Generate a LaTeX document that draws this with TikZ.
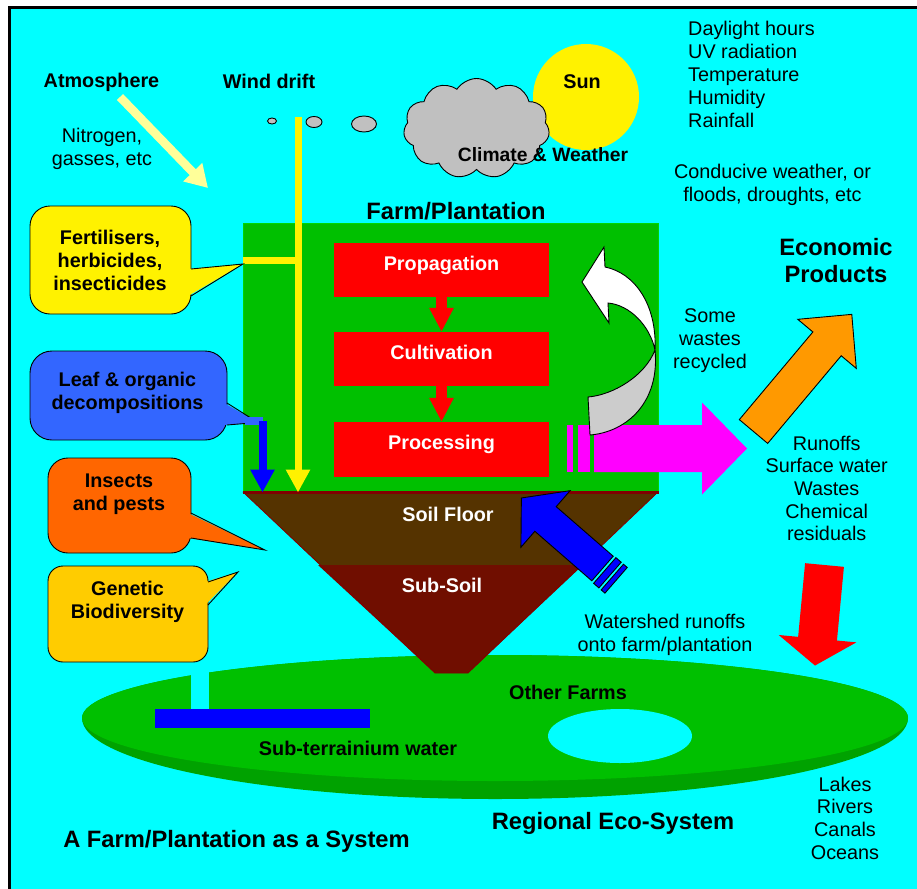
\documentclass[tikz,border=0pt]{standalone}
\usepackage{fontspec}
\setmainfont{Liberation Sans}
\usetikzlibrary{arrows.meta,shapes.symbols}
\definecolor{sky}{RGB}{0,255,255}
\definecolor{farmgreen}{RGB}{0,192,0}
\definecolor{farmedge}{RGB}{0,214,0}
\definecolor{rimgreen}{RGB}{0,162,0}
\definecolor{soil}{RGB}{85,51,0}
\definecolor{subsoil}{RGB}{112,14,0}
\definecolor{soilline}{RGB}{128,0,0}
\definecolor{leafblue}{RGB}{51,102,255}
\definecolor{pestorange}{RGB}{255,102,0}
\definecolor{genegold}{RGB}{255,204,0}
\definecolor{prodorange}{RGB}{255,153,0}
\definecolor{airyellow}{RGB}{255,255,153}
\definecolor{cloudgray}{RGB}{192,192,192}
\definecolor{twistgray}{RGB}{204,204,204}
\definecolor{runoffpink}{RGB}{255,0,255}
\begin{document}
\begin{tikzpicture}[x=1pt,y=-1pt,
  lbl/.style={inner sep=0pt, align=center, font=\fontsize{19.8}{23}\selectfont},
  blbl/.style={inner sep=0pt, align=center, font=\fontsize{19.8}{23}\selectfont\bfseries},
  ttl/.style={inner sep=0pt, align=center, font=\fontsize{23.7}{27.5}\selectfont\bfseries},
  procbox/.style={fill=red, minimum width=215pt, minimum height=54pt, inner sep=0pt,
    text height=8pt, text depth=8pt,
    text=white, font=\fontsize{19.8}{23}\selectfont\bfseries},
  flowdown/.style={draw=red, line width=11pt, -{Triangle[length=24pt,width=23pt]}},
  outline/.style={draw=black, line width=0.9pt},
  blockarrow/.style={draw=black, line width=0.9pt, line join=miter},
]
\useasboundingbox (0,0) rectangle (917,888);
\fill[white] (0,0) rectangle (917,888);
\begin{scope}
  \clip (0,0) rectangle (917,888);
  \filldraw[fill=sky, draw=black, line width=3.5pt] (9.5,7.5) rectangle (960,960);
\end{scope}

% ---------- regional eco-system disc ----------
\fill[rimgreen] (82,718) arc[start angle=180, end angle=360, x radius=413pt, y radius=81pt]
  arc[start angle=0, end angle=180, x radius=413pt, y radius=63pt] -- cycle;
\fill[farmgreen] (495,718) ellipse[x radius=413pt, y radius=63pt];
\fill[sky] (620,736) ellipse[x radius=72pt, y radius=27pt];
\fill[sky] (191,655) rectangle (209,710);
\fill[blue] (155,709) rectangle (370,728);

% ---------- sky: sun, cloud, wind bubbles ----------
\fill[yellow] (586,97) circle[radius=53pt];
\node[cloud, cloud puffs=11, cloud puff arc=115, aspect=1.5, fill=cloudgray, outline,
  minimum width=146pt, minimum height=100pt, inner sep=0pt] (cloud) at (476.5,128.5) {};
\filldraw[fill=cloudgray, outline] (272,121) ellipse[x radius=4.5pt, y radius=3pt];
\filldraw[fill=cloudgray, outline] (314,122) ellipse[x radius=8pt, y radius=5.5pt];
\filldraw[fill=cloudgray, outline] (364,124) ellipse[x radius=12.5pt, y radius=8pt];

% ---------- farm / plantation ----------
\node[fill=farmgreen, draw=farmedge, line width=1pt, minimum width=415pt, minimum height=269pt,
  inner sep=0pt] (farm) at (450.5,357.5) {};
\node[procbox] (prop) at (441.5,270) {Propagation};
\node[procbox] (cult) at (441.5,359) {Cultivation};
\node[procbox, minimum height=55pt] (proc) at (441.5,449.5) {Processing};
\draw[flowdown] (prop.south) -- (cult.north);
\draw[flowdown] (cult.south) -- (proc.north);

% soil layers
\fill[soil] (243,492) -- (658,492) -- (581,565) -- (320,565) -- cycle;
\fill[subsoil] (318,565) -- (583,565) -- (468,673) -- (435,673) -- cycle;
\draw[soilline, line width=0.8pt] (243,492) -- (435,673) -- (468,673) -- (658,492);
\draw[soilline, line width=3pt] (farm.south west) -- (farm.south east);

% wind drift and fertiliser inputs
\coordinate (windtop) at (298,117);
\coordinate (fertjoin) at (243,260.5);
\draw[yellow, line width=7pt] (fertjoin) -- ([xshift=3.5pt]fertjoin -| windtop);
\draw[yellow, line width=7pt, -{Triangle[length=23pt,width=23pt]}] (windtop) -- (windtop |- farm.south);

% atmosphere input
\coordinate (atmstart) at (120,97);
\coordinate (atmend) at (208,188);
\draw[airyellow, line width=8.5pt, -{Triangle[length=22pt,width=25pt]}] (atmstart) -- (atmend);

% ---------- callouts ----------
\filldraw[fill=yellow, outline, rounded corners=20pt] (30,206) rectangle (191,314);
\fill[yellow] (188,269) -- (243,264) -- (188,296) -- cycle;
\draw[outline] (191,269) -- (243,264) -- (191,296);

\filldraw[fill=leafblue, outline, rounded corners=22pt] (30,351) rectangle (227,440);
\fill[leafblue] (224,403) -- (252,419) -- (245,423.5) -- (224,425) -- cycle;
\draw[outline] (227,403) -- (250,417.5);
\draw[outline] (227,425) -- (245,423.5);
\fill[leafblue] (245,417) rectangle (263,425);
\coordinate (leafdrop) at (262.5,421);
\draw[blue, line width=8pt, -{Triangle[length=23pt,width=23pt]}] (leafdrop) -- (leafdrop |- farm.south);

\filldraw[fill=pestorange, outline, rounded corners=20pt] (48,458) rectangle (191,553);
\fill[pestorange] (188,513) -- (265,550) -- (188,538) -- cycle;
\draw[outline] (191,513) -- (265,550) -- (191,538);

\filldraw[fill=genegold, outline, rounded corners=15pt] (48,566) rectangle (208,662);
\fill[genegold] (205,582) -- (238,572) -- (205,605) -- cycle;
\draw[outline] (208,582) -- (238,572) -- (208,605);

% ---------- outputs ----------
% runoff arrow leaving the farm
\fill[runoffpink] (567,425) rectangle (573,472);
\fill[runoffpink] (578,425) rectangle (590,472);
\fill[runoffpink] (594,425) -- (702,425) -- (702,402.5) -- (747,448.5) -- (702,494.5) -- (702,472) -- (594,472) -- cycle;

% recycled wastes (twisted curved arrow)
\filldraw[fill=twistgray, outline] (588,397) -- (590,435)
  .. controls (627,432) and (660,402) .. (655,350)
  .. controls (645,376) and (613,395) .. (588,397) -- cycle;
\filldraw[fill=white, outline, line join=miter] (655,350)
  .. controls (650,326) and (630,305) .. (608,303)
  -- (609,323) -- (582,282) -- (604,247) -- (605,267)
  .. controls (635,273) and (657,305) .. (655,350) -- cycle;

% watershed runoff entering the farm
\begin{scope}[shift={(602.5,568.5)}, rotate=139]
  \filldraw[fill=blue, blockarrow] (0,-16.3) -- (75.5,-16.3) -- (75.5,-37.5) -- (107.5,0)
    -- (75.5,37.5) -- (75.5,16.3) -- (0,16.3) -- cycle;
  \filldraw[fill=blue, blockarrow] (-3,-17) rectangle (-10,17);
  \filldraw[fill=blue, blockarrow] (-13,-17) rectangle (-18,17);
\end{scope}

% economic products
\begin{scope}[shift={(753.5,431.5)}, rotate=50]
  \filldraw[fill=prodorange, blockarrow] (0,-18.5) -- (114.4,-18.5) -- (114.4,-38.2) -- (152.9,0)
    -- (114.4,38.2) -- (114.4,18.5) -- (0,18.5) -- cycle;
\end{scope}

% flow towards the water bodies
\begin{scope}[shift={(824.5,565)}, rotate=-95.4]
  \fill[red] (0,-19.5) -- (74,-19.5) -- (74,-39) -- (101,0) -- (74,39) -- (74,19.5) -- (0,19.5) -- cycle;
\end{scope}

% ---------- texts ----------
\node[blbl] (atm) at (101.5,82) {Atmosphere};
\node[lbl] (nitro) at (102,149) {Nitrogen,\\gasses, etc};
\node[blbl] (wind) at (269,81) {Wind drift};
\node[blbl] (sun) at (582,82) {Sun};
\node[blbl, font=\fontsize{19.3}{22}\selectfont\bfseries] (climate) at (543,155) {Climate \& Weather};
\node[lbl, align=left, anchor=west] (factors) at (688,74) {Daylight hours\\UV radiation\\Temperature\\Humidity\\Rainfall};
\node[lbl] (conducive) at (772.5,185) {Conducive weather, or\\floods, droughts, etc};
\node[ttl] (farmtitle) at (456,211) {Farm/Plantation};
\node[blbl] (fert) at (110,260) {Fertilisers,\\herbicides,\\insecticides};
\node[blbl] (leaf) at (127.5,393) {Leaf \& organic\\decompositions};
\node[blbl] (insects) at (119,494) {Insects\\and pests};
\node[blbl] (genetic) at (127.5,602) {Genetic\\Biodiversity};
\node[blbl, text=white] (soilfloor) at (448,514) {Soil Floor};
\node[blbl, text=white] (subsoiltxt) at (442,585) {Sub-Soil};
\node[ttl] (econ) at (836,260.5) {Economic\\Products};
\node[lbl] (recycled) at (710,341) {Some\\wastes\\recycled};
\node[lbl, font=\fontsize{19.8}{22.7}\selectfont] (runoffs) at (826.7,488.5) {Runoffs\\Surface water\\Wastes\\Chemical\\residuals};
\node[lbl] (watershed) at (665,634.5) {Watershed runoffs\\onto farm/plantation};
\node[blbl] (otherfarms) at (568,692) {Other Farms};
\node[blbl] (subwater) at (358,748) {Sub-terrainium water};
\node[ttl] (regional) at (613,823) {Regional Eco-System};
\node[ttl] (systitle) at (236.5,841) {A Farm/Plantation as a System};
\node[lbl, font=\fontsize{19.8}{22.7}\selectfont] (waters) at (845,818) {Lakes\\Rivers\\Canals\\Oceans};
\end{tikzpicture}
\end{document}
